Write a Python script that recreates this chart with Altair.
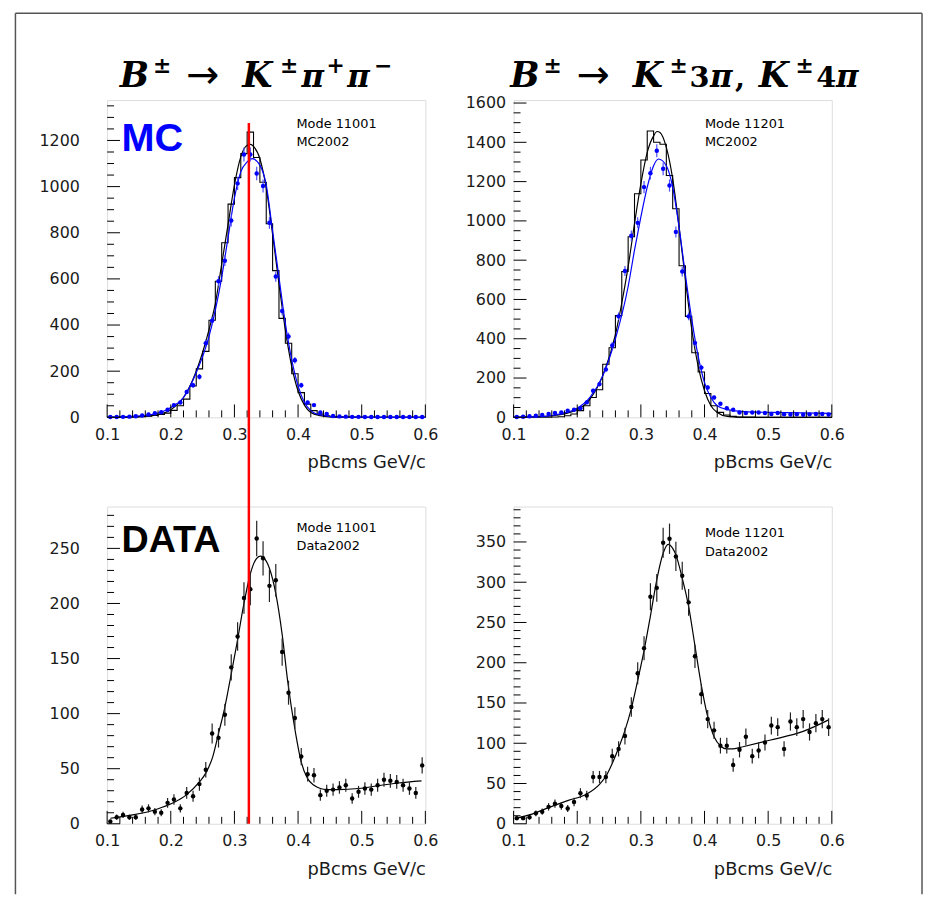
import altair as alt
import pandas as pd

# ---------------- binning (0.01 GeV/c bins from 0.1 to 0.6) ----------------
bin_edges = [round(0.10 + 0.01 * i, 2) for i in range(51)]
bin_centers = [round(0.105 + 0.01 * i, 3) for i in range(50)]

# ---------------- top-left: MC, mode 11001 ----------------
tl_hist = [0, 0, 1, 1, 2, 3, 5, 8, 12, 18,
           30, 50, 79, 136, 210, 286, 421, 590, 757, 924,
           1039, 1143, 1236, 1126, 1019, 839, 636, 429, 321, 189,
           107, 57, 29, 14, 7, 3, 2, 1, 1, 0,
           0, 0, 0, 0, 0, 0, 0, 0, 0, 0]
tl_mc = [1, 1, 2, 3, 5, 8, 12, 18, 22, 33,
         53, 64, 110, 139, 176, 321, 419, 590, 679, 853,
         1014, 1139, 1139, 1057, 1003, 843, 610, 461, 350, 247,
         139, 64, 53, 21, 14, 6, 4, 3, 2, 2,
         1, 1, 1, 1, 1, 1, 1, 1, 1, 1]
tl_mc_err = [1, 1, 1, 2, 2, 3, 3, 4, 4, 5,
             7, 7, 9, 11, 12, 16, 18, 22, 23, 26,
             29, 30, 30, 29, 28, 26, 22, 19, 17, 14,
             11, 7, 7, 4, 3, 2, 2, 2, 1, 1,
             1, 1, 1, 1, 1, 1, 1, 1, 1, 1]
tl_fit_h_x = [0.10, 0.15, 0.18, 0.20, 0.22, 0.24, 0.26, 0.27, 0.28, 0.29, 0.30, 0.31, 0.32, 0.3255,
              0.33, 0.34, 0.35, 0.36, 0.37, 0.38, 0.39, 0.40, 0.41, 0.42, 0.435, 0.455, 0.50, 0.60]
tl_fit_h_y = [0, 3, 12, 33, 86, 200, 379, 493, 664, 836, 1007, 1129, 1179, 1183,
              1174, 1121, 993, 793, 579, 379, 221, 114, 53, 21, 7, 1, 0, 0]
tl_fit_mc_x = [0.10, 0.165, 0.20, 0.22, 0.24, 0.26, 0.28, 0.29, 0.30, 0.31, 0.32, 0.328,
               0.34, 0.35, 0.36, 0.37, 0.38, 0.39, 0.40, 0.41, 0.42, 0.435, 0.464, 0.60]
tl_fit_mc_y = [0, 10, 43, 86, 193, 350, 607, 779, 950, 1064, 1107, 1121,
               1093, 1007, 807, 607, 407, 250, 136, 64, 29, 10, 1, 0]

# ---------------- top-right: MC, mode 11201 ----------------
tr_hist = [0, 0, 0, 1, 1, 1, 2, 3, 8, 17,
           34, 59, 101, 140, 270, 354, 518, 742, 919, 1138,
           1310, 1458, 1400, 1390, 1231, 1062, 772, 514, 329, 231,
           121, 59, 25, 12, 5, 2, 1, 1, 0, 0,
           0, 0, 0, 0, 0, 0, 0, 0, 0, 0]
tr_mc = [2, 3, 5, 8, 12, 17, 22, 25, 34, 39,
         46, 76, 135, 169, 244, 366, 514, 745, 924, 990,
         1172, 1243, 1357, 1265, 1180, 944, 742, 514, 379, 253,
         152, 101, 69, 46, 39, 25, 22, 25, 25, 22,
         17, 22, 15, 14, 16, 13, 15, 17, 17, 14]
tr_mc_err = [1, 2, 2, 3, 3, 4, 4, 5, 5, 6,
             6, 8, 10, 12, 14, 17, 20, 25, 27, 28,
             31, 32, 33, 32, 31, 28, 25, 20, 18, 14,
             11, 9, 7, 6, 6, 5, 4, 5, 5, 4,
             4, 4, 4, 4, 4, 4, 4, 4, 4, 4]
tr_fit_h_x = [0.10, 0.16, 0.20, 0.22, 0.24, 0.26, 0.27, 0.28, 0.29, 0.30, 0.31, 0.32, 0.3255,
              0.33, 0.34, 0.35, 0.36, 0.37, 0.38, 0.39, 0.40, 0.41, 0.42, 0.436, 0.462, 0.60]
tr_fit_h_y = [0, 8, 39, 93, 211, 421, 582, 767, 986, 1189, 1349, 1433, 1455,
              1450, 1374, 1214, 969, 700, 447, 261, 135, 59, 25, 5, 0, 0]
tr_fit_mc_x = [0.10, 0.139, 0.165, 0.20, 0.22, 0.24, 0.26, 0.28, 0.29, 0.30, 0.31, 0.32, 0.3276,
               0.34, 0.35, 0.36, 0.37, 0.38, 0.39, 0.40, 0.41, 0.42, 0.436, 0.462, 0.504, 0.60]
tr_fit_mc_y = [1, 3, 12, 46, 101, 211, 400, 666, 851, 1020, 1172, 1281, 1315,
               1281, 1172, 969, 725, 497, 312, 177, 101, 59, 39, 29, 25, 20]

# ---------------- bottom-left: DATA, mode 11001 ----------------
bl_data = [2, 6, 8, 6, 6, 13, 14, 11, 10, 19,
           22, 14, 28, 25, 36, 49, 82, 78, 99, 142,
           170, 205, 213, 259, 241, 216, 221, 156, 119, 96,
           61, 45, 44, 26, 30, 31, 33, 35, 23, 29,
           32, 31, 35, 40, 39, 38, 35, 32, 28, 53]
bl_err = [1.4, 2.4, 2.8, 2.4, 2.4, 3.6, 3.7, 3.3, 3.2, 4.4,
          4.7, 3.7, 5.3, 5.0, 6.0, 7.0, 9.1, 8.8, 9.9, 11.9,
          13.0, 14.3, 14.6, 16.1, 15.5, 14.7, 14.9, 12.5, 10.9, 9.8,
          7.8, 6.7, 6.6, 5.1, 5.5, 5.6, 5.7, 5.9, 4.8, 5.4,
          5.7, 5.6, 5.9, 6.3, 6.2, 6.2, 5.9, 5.7, 5.3, 7.3]
bl_fit_x = [0.105, 0.14, 0.177, 0.204, 0.224, 0.245, 0.255, 0.266, 0.275, 0.285, 0.294, 0.304,
            0.315, 0.325, 0.335, 0.341, 0.345, 0.355, 0.365, 0.375, 0.384, 0.395, 0.405, 0.415,
            0.425, 0.435, 0.445, 0.464, 0.495, 0.531, 0.557, 0.594]
bl_fit_y = [5, 8, 13, 19, 26, 38, 46, 61, 82, 106, 133, 164,
            200, 227, 241, 243, 242, 232, 209, 172, 128, 86, 56, 41,
            35, 32, 31, 31, 32, 35, 37, 39]

# ---------------- bottom-right: DATA, mode 11201 ----------------
br_data = [7, 7, 8, 13, 15, 21, 25, 22, 19, 27,
           38, 35, 58, 58, 58, 84, 93, 109, 145, 187,
           218, 282, 293, 349, 354, 332, 308, 275, 208, 161,
           130, 116, 97, 97, 73, 92, 108, 84, 91, 101,
           122, 120, 93, 127, 120, 130, 114, 125, 130, 120]
br_err = [2.6, 2.6, 2.8, 3.6, 3.9, 4.6, 5.0, 4.7, 4.4, 5.2,
          6.2, 5.9, 7.6, 7.6, 7.6, 9.2, 9.6, 10.4, 12.0, 13.7,
          14.8, 16.8, 17.1, 18.7, 18.8, 18.2, 17.5, 16.6, 14.4, 12.7,
          11.4, 10.8, 9.8, 9.8, 8.5, 9.6, 10.4, 9.2, 9.5, 10.0,
          11.0, 11.0, 9.6, 11.3, 11.0, 11.4, 10.7, 11.2, 11.4, 11.0]
br_fit_x = [0.105, 0.129, 0.155, 0.186, 0.215, 0.235, 0.245, 0.255, 0.265, 0.275, 0.285, 0.295,
            0.305, 0.315, 0.325, 0.335, 0.343, 0.35, 0.355, 0.365, 0.375, 0.385, 0.395, 0.405,
            0.415, 0.426, 0.435, 0.445, 0.462, 0.504, 0.556, 0.595]
br_fit_y = [7, 12, 20, 29, 37, 49, 59, 75, 94, 116, 143, 178,
            215, 258, 303, 336, 347, 342, 334, 305, 270, 221, 172, 133,
            108, 96, 93, 93, 96, 104, 115, 129]

red_line_x = [0.3227]
x_label_values = [0.1, 0.2, 0.3, 0.4, 0.5, 0.6]
x_minor_values = [0.12, 0.14, 0.16, 0.18, 0.22, 0.24, 0.26, 0.28, 0.32, 0.34, 0.36, 0.38,
                  0.42, 0.44, 0.46, 0.48, 0.52, 0.54, 0.56, 0.58]

# ---------------- styling ----------------
W, H = 321, 320
FONT = "DejaVu Sans"
MATH = "DejaVu Serif"
TXT = "#1a1a1a"
BLUE = "#0000ff"
ONE = pd.DataFrame({"k": [0]})
# plot-area origins of the four panels on the page (used only for text placement)
ORIG = {"tl": (107.5, 99.0), "tr": (517.5, 99.0), "bl": (107.5, 509.0), "br": (517.5, 509.0)}


def scales(ymax):
    xs = alt.Scale(domain=[0.1, 0.6], nice=False, zero=False)
    ys = alt.Scale(domain=[0, ymax], nice=False, zero=False)
    return xs, ys


def axes(ylabels, ypad):
    xa = alt.Axis(values=x_label_values, format=".1f", ticks=False, domain=False, grid=False,
                  labelFont=FONT, labelFontSize=16, labelColor=TXT, labelPadding=9,
                  labelFlush=False, labelOverlap=False,
                  title="pBcms GeV/c", titleFont=FONT, titleFontSize=18, titleFontWeight="normal",
                  titleColor=TXT, titleAnchor="end", titlePadding=12)
    ya = alt.Axis(values=ylabels, format="d", ticks=False, domain=False, grid=False,
                  labelFont=FONT, labelFontSize=16, labelColor=TXT, labelPadding=ypad,
                  labelFlush=False, labelOverlap=False)
    return xa, ya


def text_at(panel, s, page_x, page_y, size, font=FONT, weight="normal", style="normal",
            color="black", align="left"):
    ox, oy = ORIG[panel]
    return alt.Chart(ONE).mark_text(
        text=s, font=font, fontSize=size, fontWeight=weight, fontStyle=style, color=color,
        align=align, baseline="alphabetic"
    ).encode(x=alt.value(page_x - ox), y=alt.value(page_y - oy))


def prule(x, x2, y, y2, color, width):
    return alt.Chart(ONE).mark_rule(color=color, strokeWidth=width).encode(
        x=alt.value(x), x2=alt.value(x2), y=alt.value(y), y2=alt.value(y2))


def panel(ymax, ystep, yminor, ypad, hist=None, pts=None, errs=None, pcolor="black",
          ecolor="black", fits=(), extras=()):
    xs, ys = scales(ymax)
    xa, ya = axes(list(range(0, int(ymax) + 1, ystep)), ypad)
    X = lambda f: alt.X(f, type="quantitative", scale=xs, axis=xa)
    Y = lambda f: alt.Y(f, type="quantitative", scale=ys, axis=ya, title=None)
    layers = []
    if hist is not None:
        hdf = pd.DataFrame({"x": bin_edges, "y": hist + [hist[-1]]})
        layers.append(alt.Chart(hdf).mark_line(interpolate="step-after", color="black",
                                               strokeWidth=1.1).encode(x=X("x"), y=Y("y")))
    for fx, fy, fc in fits:
        fdf = pd.DataFrame({"x": fx, "y": fy})
        layers.append(alt.Chart(fdf).mark_line(interpolate="monotone", color=fc,
                                               strokeWidth=1.2).encode(x=X("x"), y=Y("y")))
    if pts is not None:
        pdf = pd.DataFrame({"x": bin_centers, "y": pts,
                            "lo": [max(0, v - e) for v, e in zip(pts, errs)],
                            "hi": [v + e for v, e in zip(pts, errs)]})
        layers.append(alt.Chart(pdf).mark_rule(color=ecolor, strokeWidth=1.2).encode(
            x=X("x"), y=Y("lo"), y2="hi"))
        layers.append(alt.Chart(pdf).mark_circle(color=pcolor, size=20, opacity=1).encode(
            x=X("x"), y=Y("y")))
    # inward ROOT-style ticks
    ymaj = list(range(0, int(ymax) + 1, ystep))
    ymin = [v for v in range(0, int(ymax) + 1, yminor) if v % ystep != 0]
    for vals, ln in ((x_label_values, 13), (x_minor_values, 7)):
        layers.append(alt.Chart(pd.DataFrame({"t": vals})).mark_rule(color="black", strokeWidth=1)
                      .encode(x=X("t"), y=alt.value(H), y2=alt.value(H - ln)))
    for vals, ln in ((ymaj, 13), (ymin, 7)):
        layers.append(alt.Chart(pd.DataFrame({"t": vals})).mark_rule(color="black", strokeWidth=1)
                      .encode(y=Y("t"), x=alt.value(0), x2=alt.value(ln)))
    layers.extend(extras)
    return alt.layer(*layers).properties(width=W, height=H)


# title glyphs: (text, centre x on page, baseline y on page, size, style, weight, font)
SUP_Y, BASE_Y = 72, 86
left_title = [("B", 135, BASE_Y, 35, "italic", "bold", MATH),
              ("±", 163, SUP_Y, 22, "normal", "bold", MATH),
              ("→", 204, 87, 40, "normal", "normal", FONT),
              ("K", 259, BASE_Y, 35, "italic", "bold", MATH),
              ("±", 291, SUP_Y, 22, "normal", "bold", MATH),
              ("π", 315, BASE_Y, 31, "italic", "bold", MATH),
              ("+", 338, SUP_Y, 22, "normal", "bold", MATH),
              ("π", 361, BASE_Y, 31, "italic", "bold", MATH),
              ("−", 386, SUP_Y, 22, "normal", "bold", MATH)]
right_title = [("B", 529, BASE_Y, 35, "italic", "bold", MATH),
               ("±", 557, SUP_Y, 22, "normal", "bold", MATH),
               ("→", 598, 87, 40, "normal", "normal", FONT),
               ("K", 653, BASE_Y, 35, "italic", "bold", MATH),
               ("±", 684, SUP_Y, 22, "normal", "bold", MATH),
               ("3", 705, BASE_Y, 29, "normal", "bold", MATH),
               ("π", 727, BASE_Y, 31, "italic", "bold", MATH),
               (",", 746, BASE_Y, 29, "normal", "bold", MATH),
               ("K", 780, BASE_Y, 35, "italic", "bold", MATH),
               ("±", 811, SUP_Y, 22, "normal", "bold", MATH),
               ("4", 833, BASE_Y, 29, "normal", "bold", MATH),
               ("π", 854, BASE_Y, 31, "italic", "bold", MATH)]


def title_segments(panel_key, segs):
    return [text_at(panel_key, s, px, py, size, font=fnt, weight=wt, style=style,
                    align="center")
            for s, px, py, size, style, wt, fnt in segs]


# page frame (drawn from the top-left panel, pixel offsets relative to its plot area)
frame = [
    prule(-99, -99, -88, -80, "white", 1),            # bounding anchor (invisible)
    prule(-92.5, 822, -87.5, -87.5, "#555555", 1.5),  # top edge
    prule(-92.5, -92.5, -87.5, 801, "#555555", 1.5),  # left edge
    prule(822, 822, -87.5, 801, "#555555", 1.5),      # right edge
]

tl_extras = frame + title_segments("tl", left_title) + [
    text_at("tl", "MC", 122, 150, 40, font="Liberation Sans", weight="bold", color=BLUE),
    text_at("tl", "Mode 11001", 298.5, 127, 13),
    text_at("tl", "MC2002", 298.5, 145, 13),
]
tr_extras = title_segments("tr", right_title) + [
    text_at("tr", "Mode 11201", 710.5, 127, 13),
    text_at("tr", "MC2002", 710.5, 145, 13),
]

xs_bl, _ = scales(288)
xa_bl, _ = axes([0], 28)
red = alt.Chart(pd.DataFrame({"x": red_line_x})).mark_rule(color="#ff0000", strokeWidth=2.5).encode(
    x=alt.X("x", type="quantitative", scale=xs_bl, axis=xa_bl),
    y=alt.value(122 - 509), y2=alt.value(H))
bl_extras = [
    text_at("bl", "DATA", 122, 555, 38, font="Liberation Sans", weight="bold"),
    text_at("bl", "Mode 11001", 298.5, 535, 13),
    text_at("bl", "Data2002", 298.5, 553, 13),
    red,
]
br_extras = [
    text_at("br", "Mode 11201", 710.5, 540, 13),
    text_at("br", "Data2002", 710.5, 559, 13),
]

tl = panel(1375, 200, 50, 28, hist=tl_hist, pts=tl_mc, errs=tl_mc_err, pcolor=BLUE,
           ecolor="#4d4dff",
           fits=[(tl_fit_h_x, tl_fit_h_y, "black"), (tl_fit_mc_x, tl_fit_mc_y, BLUE)],
           extras=tl_extras)
tr = panel(1615, 200, 50, 8, hist=tr_hist, pts=tr_mc, errs=tr_mc_err, pcolor=BLUE,
           ecolor="#4d4dff",
           fits=[(tr_fit_h_x, tr_fit_h_y, "black"), (tr_fit_mc_x, tr_fit_mc_y, BLUE)],
           extras=tr_extras)
bl = panel(288, 50, 10, 28, pts=bl_data, errs=bl_err, pcolor="black", ecolor="#222222",
           fits=[(bl_fit_x, bl_fit_y, "black")], extras=bl_extras)
br = panel(394, 50, 10, 8, pts=br_data, errs=br_err, pcolor="black", ecolor="#222222",
           fits=[(br_fit_x, br_fit_y, "black")], extras=br_extras)

chart = alt.concat(tl, tr, bl, br, columns=2, spacing={"row": 90, "column": 89},
                   bounds="flush", padding=0).configure_view(
    stroke="black", strokeWidth=1).configure(background="white")

chart.save("out.html", embed_options={"renderer": "svg", "actions": False})
